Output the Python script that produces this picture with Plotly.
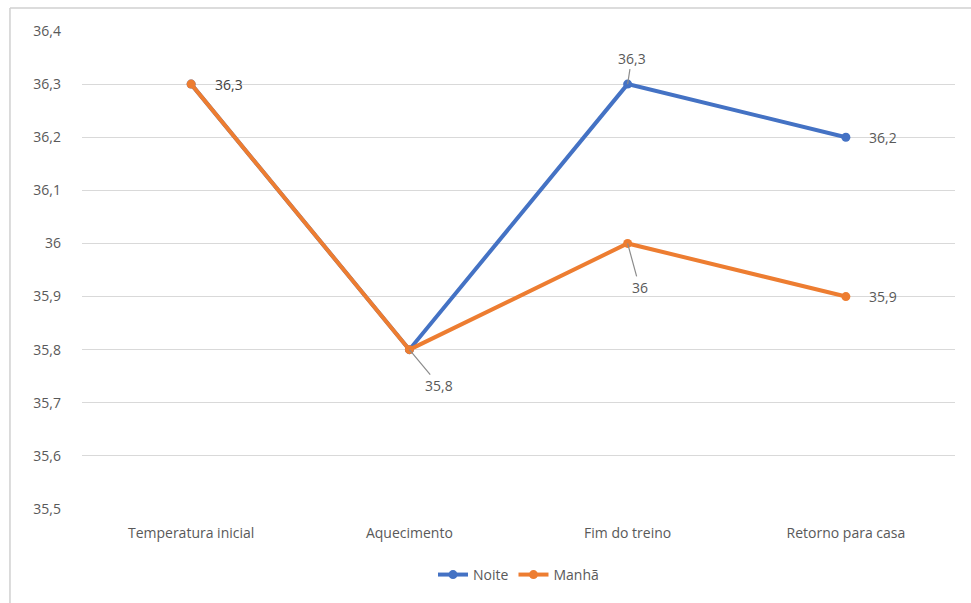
import plotly.graph_objects as go

# Body temperature (°C) at each stage of the training session
stages = ["Temperatura inicial", "Aquecimento", "Fim do treino", "Retorno para casa"]
noite = [36.3, 35.8, 36.3, 36.2]
manha = [36.3, 35.8, 36.0, 35.9]

y_ticks = [35.5, 35.6, 35.7, 35.8, 35.9, 36.0, 36.1, 36.2, 36.3, 36.4]
y_tick_labels = ["35,5", "35,6", "35,7", "35,8", "35,9", "36", "36,1", "36,2", "36,3", "36,4"]

BLUE = "#4472C4"
ORANGE = "#ED7D31"
TEXT = "#595959"
GRID = "#D9D9D9"
FONT = "Open Sans"
FS = 14


def fmt(v):
    s = f"{v:.1f}".rstrip("0").rstrip(".")
    return s.replace(".", ",")


fig = go.Figure()
fig.add_trace(go.Scatter(
    x=stages, y=noite, name="Noite", mode="lines+markers",
    line=dict(color=BLUE, width=4), marker=dict(size=9, color=BLUE),
))
fig.add_trace(go.Scatter(
    x=stages, y=manha, name="Manhã", mode="lines+markers",
    line=dict(color=ORANGE, width=4), marker=dict(size=9, color=ORANGE),
))

# Data labels: (series, index, x offset px, y offset px, leader line?)
label_specs = [
    (manha, 0, 38, 0, False),
    (manha, 1, 30, 36, True),
    (noite, 2, 4, -26, True),
    (manha, 2, 12, 44, True),
    (noite, 3, 37, 0, False),
    (manha, 3, 37, 0, False),
]
annotations = []
for series, i, dx, dy, leader in label_specs:
    if leader:
        annotations.append(dict(
            x=stages[i], y=series[i], xref="x", yref="y",
            text=fmt(series[i]), showarrow=True, ax=dx, ay=dy,
            arrowhead=0, arrowwidth=1.2, arrowcolor="#8C8C8C", standoff=0,
            font=dict(family=FONT, size=FS, color=TEXT),
        ))
    else:
        annotations.append(dict(
            x=stages[i], y=series[i], xref="x", yref="y",
            text=fmt(series[i]), showarrow=False, xshift=dx, yshift=dy,
            font=dict(family=FONT, size=FS, color="#404040" if i == 0 else TEXT),
        ))

fig.update_layout(
    width=971, height=603,
    margin=dict(l=82, r=16, t=31, b=94),
    paper_bgcolor="white", plot_bgcolor="white",
    separators=",.",
    font=dict(family=FONT, size=FS, color=TEXT),
    showlegend=True,
    legend=dict(orientation="h", x=0.5, xanchor="center", y=-0.138, yanchor="middle",
                font=dict(family=FONT, size=FS, color=TEXT),
                tracegroupgap=0),
    xaxis=dict(
        type="category", range=[-0.5, 3.5], showgrid=False, zeroline=False,
        showline=False, ticks="", ticklabelstandoff=14,
        tickfont=dict(family=FONT, size=FS, color=TEXT),
    ),
    yaxis=dict(
        range=[35.5, 36.4], tickvals=y_ticks, ticktext=y_tick_labels,
        showgrid=True, gridcolor=GRID, gridwidth=1, zeroline=False, showline=False,
        ticks="", ticklabelstandoff=20,
        tickfont=dict(family=FONT, size=FS, color=TEXT),
    ),
    annotations=annotations,
    shapes=[
        # chart frame (left and top edges)
        dict(type="line", xref="paper", yref="paper", x0=-0.0825, x1=-0.0825,
             y0=1.048, y1=-0.2, line=dict(color="#D0D0D0", width=1.5)),
        dict(type="line", xref="paper", yref="paper", x0=-0.0825, x1=1.02,
             y0=1.048, y1=1.048, line=dict(color="#D0D0D0", width=1.5)),
    ],
)

fig.write_html("out.html")
